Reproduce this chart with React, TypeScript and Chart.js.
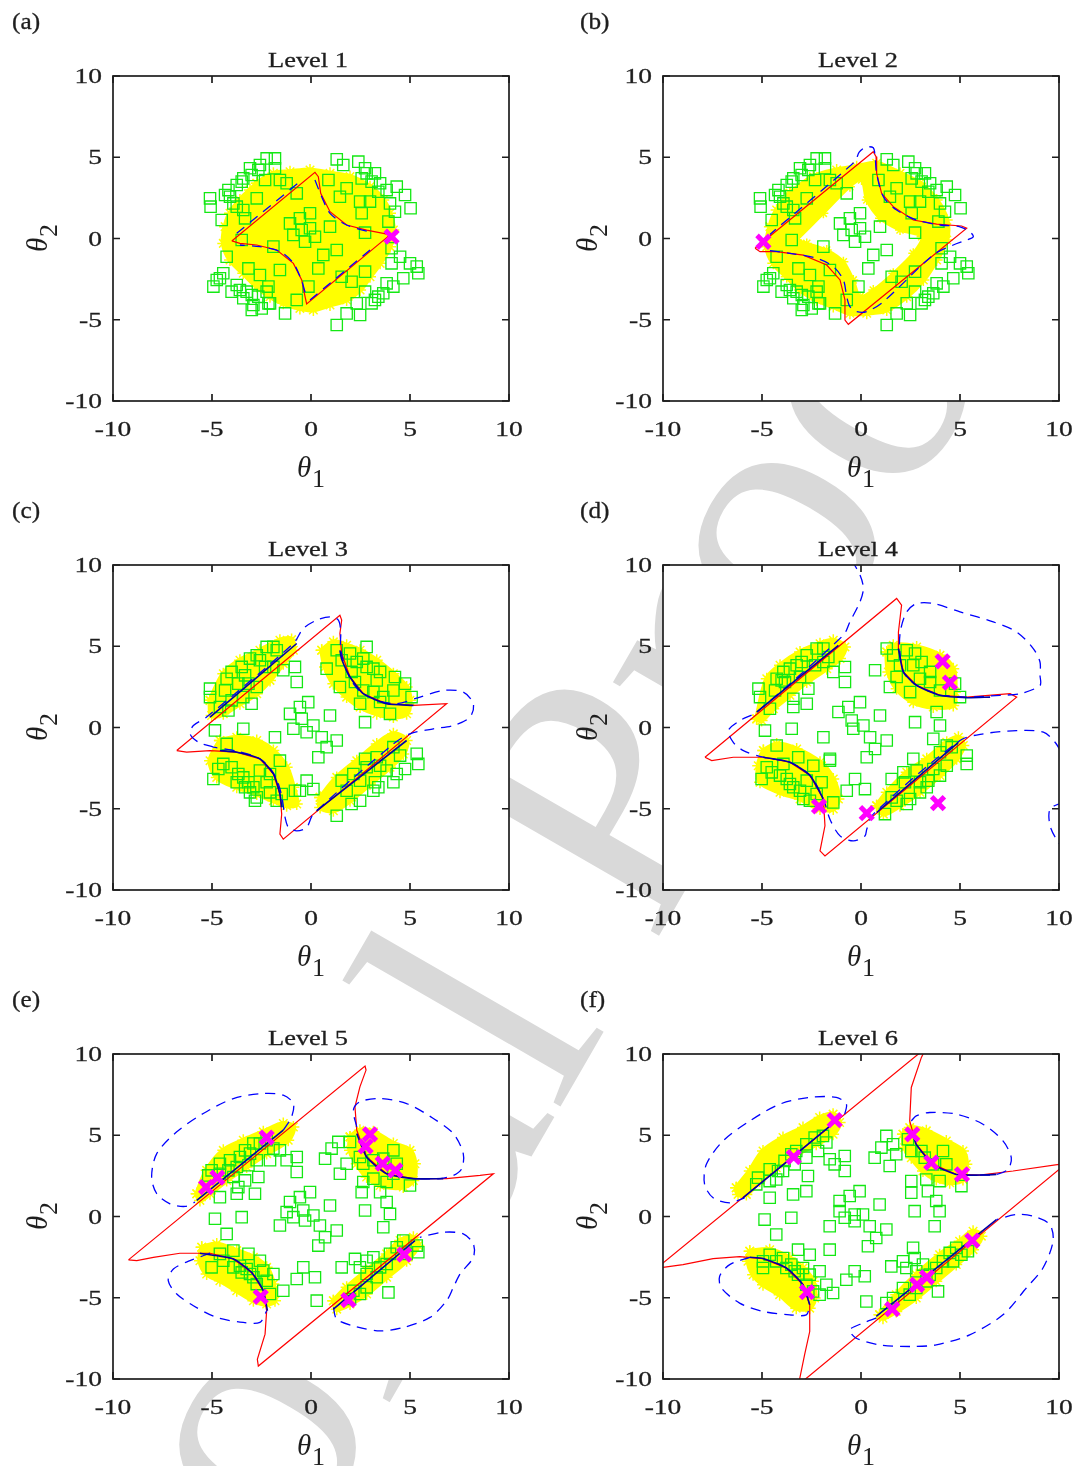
import React, { useEffect, useRef } from 'react';
import { Chart, registerables } from 'chart.js';

Chart.register(...registerables);

type Pt = [number, number];

// ---------- axes ----------
const AXIS_MIN = -10;
const AXIS_MAX = 10;
const TICKS = [-10, -5, 0, 5, 10];

// ---------- Level 1 ----------
const L1_SAMPLES: Pt[] = [
  [-1.82, 4.93], [-2.24, 4.93], [-2.58, 4.52], [-3.08, 4.32], [-2.66, 4.22], [-1.82, 4.32], [-3.42, 3.70], [-3.0, 3.91],
  [-3.75, 3.29], [-4.17, 2.98], [-3.5, 3.5], [-4.09, 2.57], [-5.1, 2.47], [-5.07, 1.96], [-4.51, 1.14], [-3.75, 1.96],
  [-3.42, 1.75], [-3.33, 1.24], [-2.74, 2.47], [-2.32, 3.6], [-1.57, 3.6], [-1.23, 3.4], [-0.72, 2.78], [-3.92, 2.16],
  [-4.34, 2.68], [1.3, 4.87], [1.63, 4.52], [2.39, 4.73], [2.73, 4.32], [2.81, 4.01], [2.56, 3.7], [3.23, 4.01],
  [3.06, 3.5], [3.49, 3.4], [3.4, 2.88], [3.82, 2.98], [4.33, 3.19], [4.75, 2.68], [3.99, 2.16], [5.03, 1.86],
  [4.24, 1.65], [3.91, 1.04], [2.98, 2.27], [2.48, 2.27], [2.56, 1.55], [1.46, 2.57], [0.88, 3.6], [1.8, 3.09],
  [0.96, 0.73], [2.73, 0.36], [-1.06, 0.93], [-0.56, 1.24], [-0.05, 1.55], [-0.47, 0.52], [-0.89, 0.22], [-0.3, -0.2],
  [0.2, 0.11], [1.3, -0.71], [0.62, -1.01], [0.37, -1.84], [-0.13, -2.96], [-0.72, -3.78], [-1.31, -4.61], [-1.9, -0.5],
  [-2.07, -3.99], [-2.24, -3.27], [-0.05, 0.63], [-3.5, -0.09], [4.07, -0.6], [4.5, -1.12], [4.07, -1.53], [5.0, -1.53],
  [5.34, -1.73], [5.42, -2.14], [4.66, -2.45], [3.82, -2.76], [4.16, -2.96], [3.65, -3.37], [3.23, -3.78], [3.06, -3.99],
  [3.4, -3.58], [2.31, -3.99], [2.48, -4.71], [1.8, -4.61], [1.3, -5.32], [2.73, -3.27], [2.05, -2.66], [1.55, -2.35],
  [2.73, -2.04], [-4.6, -2.45], [-4.93, -2.96], [-4.76, -2.55], [-4.43, -2.14], [-4.26, -1.12], [-3.75, -2.86], [-3.59, -3.17],
  [-3.25, -3.27], [-3.42, -3.68], [-2.99, -3.48], [-2.91, -4.09], [-2.99, -4.4], [-2.49, -4.3], [-2.15, -3.99], [-2.66, -3.58],
  [-3.16, -1.84], [-2.58, -2.25], [-1.57, -1.94], [-4.01, -3.27], [-2.15, -2.96],
];
const L1_YELLOW: Pt[][] = [[
  [-2.74, 3.4], [-1.9, 4.01], [-1.06, 4.11], [-0.05, 4.22], [0.96, 4.01], [1.97, 3.81], [2.98, 3.19], [3.65, 2.37],
  [3.99, 1.55], [4.16, 0.52], [3.99, -0.5], [3.49, -1.53], [2.98, -2.35], [2.48, -3.17], [1.8, -3.78], [0.96, -4.09],
  [0.12, -4.4], [-0.56, -4.3], [-1.4, -3.99], [-2.07, -3.58], [-2.74, -2.96], [-3.42, -2.14], [-4.09, -1.32], [-4.43, -0.3],
  [-4.34, 0.73], [-4.09, 1.55], [-3.59, 2.37], [-3.08, 2.98],
]];
const L1_SURROGATE: Pt[] = [
  [-4.0, -0.15], [0.2, 4.07], [0.37, 3.8], [0.49, 2.78], [0.96, 1.65], [1.8, 0.83], [2.81, 0.52], [3.65, 0.32], [3.99, 0.22],
  [-0.22, -4.03], [-0.3, -3.58], [-0.47, -2.55], [-0.89, -1.53], [-1.73, -0.71], [-2.74, -0.4], [-3.59, -0.3], [-4.0, -0.15],
];
const L1_CONTOUR: Pt[][] = [
  [[-3.75, 0.32], [-0.56, 3.5]],
  [[0.2, 3.6], [0.54, 2.57], [0.96, 1.55], [1.8, 0.83], [2.9, 0.42]],
  [[2.98, -0.71], [-0.05, -3.78]],
  [[-0.3, -3.3], [-0.5, -2.5], [-0.9, -1.5], [-1.57, -0.8], [-2.58, -0.5], [-3.59, -0.4]],
];
const L1_NEW: Pt[] = [[4.07, 0.11]];

// ---------- Level 2 ----------
const L2_SAMPLES: Pt[] = L1_SAMPLES; // the same candidate set is shown in panel (b)
const L2_YELLOW: Pt[][] = [[
  [-3.59, 2.78], [-2.41, 3.81], [-1.23, 4.22], [-0.22, 4.42], [0.79, 4.63], [1.97, 4.01], [2.98, 3.4], [3.82, 2.37],
  [4.33, 1.14], [4.33, -0.09], [3.82, -1.32], [3.15, -2.55], [2.31, -3.58], [1.3, -4.4], [0.29, -4.6], [-0.56, -4.6],
  [-1.4, -4.19], [-2.24, -3.78], [-3.08, -3.17], [-3.75, -2.35], [-4.43, -1.53], [-4.76, -0.5], [-4.6, 0.73], [-4.26, 1.75],
]];
const L2_HOLE: Pt[][] = [[
  [-3.25, -0.09], [-1.9, 1.55], [-0.56, 3.19], [0.03, 3.6], [0.29, 2.37], [0.96, 1.24], [1.97, 0.52], [3.06, 0.11],
  [2.64, -0.91], [1.63, -2.14], [0.62, -3.17], [-0.05, -3.58], [-0.39, -2.55], [-0.89, -1.43], [-1.73, -0.71], [-2.74, -0.3],
]];
const L2_SURROGATE: Pt[] = [
  [-5.35, -0.6], [0.62, 5.34], [0.76, 5.04], [0.79, 4.01], [1.04, 2.78], [1.63, 1.96], [2.64, 1.14], [3.82, 0.89], [5.08, 0.77],
  [5.34, 0.63], [-0.64, -5.28], [-0.81, -5.02], [-0.81, -3.78], [-1.06, -2.55], [-1.73, -1.63], [-2.91, -1.02], [-4.26, -0.81],
  [-5.1, -0.81], [-5.35, -0.6],
];
const L2_CONTOUR: Pt[][] = [[
  [-4.6, -0.75], [-3.59, -0.91], [-2.24, -1.22], [-1.4, -1.73], [-0.89, -2.55], [-0.72, -3.58], [-0.56, -4.19], [-0.22, -4.5],
  [0.29, -4.5], [1.13, -3.89], [3.65, -1.01], [4.66, -0.4], [5.34, -0.09], [5.67, 0.11], [5.51, 0.4], [5.0, 0.72],
  [3.99, 0.83], [2.81, 1.14], [1.8, 1.75], [1.13, 2.57], [0.79, 4.01], [0.71, 5.04], [0.62, 5.58], [0.25, 5.62],
  [-0.1, 5.3], [-0.3, 4.75], [-4.6, 0.25],
]];
const L2_NEW: Pt[] = [[-4.93, -0.2]];

// ---------- Level 3 ----------
const L3_SAMPLES: Pt[] = [
  [-5.1, 2.39], [-5.1, 1.87], [-4.34, 2.28], [-4.26, 3.0], [-4.01, 3.42], [-3.5, 3.73], [-3.33, 3.21], [-3.08, 4.24],
  [-2.74, 4.45], [-2.58, 4.14], [-2.24, 4.96], [-1.9, 4.96], [-1.73, 4.75], [-2.32, 3.73], [-1.9, 3.73], [-1.4, 3.52],
  [-0.81, 3.73], [-0.72, 2.8], [-2.74, 2.49], [-3.16, 2.7], [-3.67, 2.7], [-3.42, 1.87], [-4.01, 1.67], [-3.0, 1.46],
  [-4.6, 1.26], [-4.17, 1.05], [0.79, 3.62], [1.3, 4.75], [1.55, 4.14], [1.97, 4.55], [2.31, 4.03], [2.64, 4.24],
  [2.81, 3.73], [3.15, 3.62], [3.49, 3.42], [3.32, 2.9], [4.24, 3.11], [4.75, 2.7], [4.16, 2.28], [5.08, 1.87],
  [3.65, 1.87], [3.15, 2.18], [2.64, 2.28], [2.22, 2.8], [1.46, 2.49], [2.48, 1.46], [3.49, 1.57], [3.99, 0.84],
  [2.73, 0.33], [2.05, 3.42], [2.81, 4.96], [-0.14, 1.56], [-0.56, 1.26], [-1.06, 0.84], [-0.47, 0.54], [0.12, 0.12],
  [-0.89, -0.08], [-0.22, -0.29], [0.96, 0.74], [0.54, -0.6], [1.3, -0.8], [0.79, -1.21], [0.37, -1.83], [-1.82, -0.6],
  [-3.42, -0.08], [-4.85, -0.18], [-0.22, -3.27], [0.12, -3.79], [-0.56, -3.89], [-4.26, -1.01], [-4.43, -2.24], [-4.68, -2.55],
  [-4.93, -3.17], [-4.01, -2.45], [-3.67, -2.86], [-3.42, -3.07], [-3.16, -3.37], [-3.33, -3.68], [-2.91, -3.68], [-3.08, -3.99],
  [-2.74, -4.3], [-2.83, -4.51], [-2.58, -2.65], [-2.07, -2.86], [-2.24, -3.37], [-2.07, -3.99], [-1.73, -4.51], [-1.57, -2.04],
  [-0.81, -3.89], [-1.48, -4.09], [-3.75, -3.37], [1.55, -3.27], [2.14, -2.86], [2.73, -1.93], [2.81, -2.45], [3.32, -1.83],
  [3.49, -2.35], [3.82, -2.65], [4.16, -1.21], [4.5, -1.73], [4.33, -2.86], [4.75, -2.55], [5.34, -1.62], [5.42, -2.24],
  [3.23, -3.37], [3.15, -3.89], [2.48, -3.27], [1.8, -3.89], [2.48, -4.51], [2.05, -4.71], [1.3, -5.43], [3.4, -3.68],
  [4.16, -3.37],
];
const L3_YELLOW: Pt[][] = [
  [[-5.1, 1.67], [-4.43, 3.31], [-3.59, 4.14], [-2.58, 4.75], [-1.57, 5.37], [-0.98, 5.41], [-0.89, 4.75], [-1.4, 3.93],
    [-2.07, 2.9], [-2.74, 2.08], [-3.59, 1.46], [-4.43, 0.84], [-5.02, 0.74]],
  [[0.54, 4.75], [1.13, 5.27], [1.8, 5.06], [2.48, 4.75], [3.32, 4.14], [4.16, 3.31], [4.83, 2.49], [5.0, 1.67],
    [4.83, 0.84], [4.16, 0.64], [3.32, 0.84], [2.48, 1.26], [1.8, 1.87], [1.13, 2.7], [0.71, 3.73]],
  [[-4.6, -0.8], [-3.75, -0.6], [-2.74, -0.8], [-1.9, -1.42], [-1.23, -2.45], [-0.89, -3.68], [-0.72, -4.71], [-1.23, -4.81],
    [-1.9, -4.51], [-2.74, -4.09], [-3.75, -3.68], [-4.76, -3.07], [-5.1, -2.04]],
  [[0.46, -4.3], [1.3, -3.07], [2.31, -2.04], [3.32, -1.01], [4.16, -0.39], [4.83, -0.8], [4.66, -1.63], [3.99, -2.45],
    [2.98, -3.48], [1.97, -4.51], [1.13, -5.12], [0.46, -4.92]],
];
const L3_SURROGATE: Pt[] = [
  [-6.78, -1.42], [1.46, 6.91], [1.55, 6.61], [1.46, 5.78], [1.55, 4.55], [1.97, 3.11], [2.64, 2.08], [3.82, 1.46], [5.17, 1.36],
  [6.85, 1.46], [-1.4, -6.87], [-1.57, -6.56], [-1.48, -5.33], [-1.57, -4.09], [-1.9, -2.86], [-2.58, -1.93], [-3.75, -1.52],
  [-5.1, -1.42], [-6.28, -1.52], [-6.78, -1.42],
];
const L3_CONTOUR: Pt[][] = [[
  [-4.93, -1.21], [-5.69, -0.9], [-6.11, -0.39], [-5.94, 0.12], [-5.27, 0.64], [-0.89, 5.17], [-0.39, 6.09], [0.29, 6.61],
  [0.96, 6.81], [1.38, 6.61], [1.5, 5.9], [1.5, 4.8], [1.9, 3.2], [2.6, 2.1], [4.16, 1.46], [5.51, 1.87], [6.68, 2.28],
  [7.69, 2.18], [8.2, 1.46], [8.03, 0.64], [7.19, 0.12], [6.18, -0.08], [5.0, -0.39], [4.16, -1.01], [0.12, -5.33],
  [-0.22, -6.15], [-0.72, -6.36], [-1.14, -6.15], [-1.31, -5.53], [-1.5, -4.1], [-1.85, -2.9], [-2.55, -1.95], [-3.75, -1.45],
  [-4.93, -1.21],
]];
const L3_TRUE: Pt[][] = [
  [[-5.1, 0.64], [-0.72, 5.17]],
  [[1.46, 4.75], [1.55, 4.2], [1.97, 3.11], [2.64, 2.08], [3.82, 1.46], [5.17, 1.36]],
  [[4.83, -0.8], [0.29, -5.12]],
  [[-4.6, -1.42], [-3.75, -1.52], [-2.58, -1.93], [-1.9, -2.86], [-1.57, -4.09], [-1.48, -4.92]],
];
const L3_NEW: Pt[] = [];

// ---------- Level 4 ----------
const L4_SAMPLES: Pt[] = [
  [-5.18, 2.39], [-5.1, 1.87], [-4.6, 1.15], [-4.26, 3.0], [-4.34, 2.28], [-4.01, 2.9], [-3.92, 3.42], [-3.59, 3.62],
  [-3.25, 3.83], [-3.0, 4.03], [-2.74, 4.44], [-2.24, 4.86], [-1.9, 4.86], [-2.32, 3.83], [-1.9, 4.03], [-1.4, 3.42],
  [-0.81, 3.72], [-0.81, 2.8], [-2.66, 2.39], [-3.42, 1.77], [-3.42, 1.26], [-2.74, 1.46], [-3.84, 2.8], [-3.08, 3.11],
  [-1.65, 4.34], [0.71, 3.52], [1.3, 4.86], [1.63, 4.44], [2.31, 4.75], [2.73, 4.55], [3.06, 4.03], [3.49, 3.42],
  [2.64, 3.83], [1.97, 3.83], [1.8, 3.11], [1.46, 2.49], [2.48, 2.18], [2.98, 3.0], [3.49, 2.8], [3.99, 2.28],
  [3.82, 0.95], [5.0, 1.87], [4.75, 2.7], [2.73, 0.33], [3.99, 0.12], [3.65, -0.7], [-0.64, 1.26], [-0.05, 1.56],
  [-1.14, 0.95], [-0.47, 0.43], [-0.39, -0.08], [0.12, 0.12], [0.96, 0.74], [0.46, -0.6], [1.3, -0.8], [0.71, -1.32],
  [0.29, -1.83], [-1.9, -0.6], [-3.5, -0.08], [-4.85, -0.19], [-4.26, -1.11], [-1.57, -2.04], [-0.3, -3.17], [0.2, -3.79],
  [-0.72, -3.89], [1.55, -3.17], [-5.02, -3.17], [-4.76, -2.45], [-4.51, -2.76], [-4.09, -2.96], [-3.75, -3.17], [-3.59, -3.48],
  [-3.42, -3.68], [-3.08, -3.89], [-2.91, -4.4], [-2.58, -4.51], [-2.24, -4.09], [-2.74, -3.27], [-3.17, -1.83], [-2.41, -2.35],
  [-1.99, -3.37], [-1.57, -1.93], [-1.4, -4.61], [-3.92, -2.24], [1.21, -5.33], [1.55, -4.3], [2.14, -2.76], [2.22, -3.37],
  [2.64, -1.93], [2.81, -2.65], [2.98, -3.37], [3.32, -3.68], [3.65, -2.55], [3.99, -1.52], [3.99, -2.96], [4.33, -2.35],
  [4.58, -1.21], [5.34, -1.73], [5.34, -2.24], [2.48, -4.4], [2.31, -4.71], [1.8, -4.51], [2.98, -3.99], [3.4, -3.27],
  [4.33, -1.11],
];
const L4_YELLOW: Pt[][] = [
  [[-5.27, 0.53], [-4.76, 3.0], [-4.09, 3.83], [-3.08, 4.65], [-2.07, 5.16], [-1.4, 5.37], [-0.81, 4.96], [-1.06, 4.24],
    [-1.73, 3.62], [-2.74, 2.8], [-3.59, 1.98], [-4.43, 1.15], [-5.02, 0.43]],
  [[1.3, 4.65], [1.63, 5.06], [2.81, 4.96], [3.99, 4.44], [4.66, 3.62], [4.75, 2.18], [4.66, 1.36], [3.65, 1.26],
    [2.64, 1.56], [1.8, 2.39], [1.38, 3.42]],
  [[-4.93, -1.42], [-4.26, -1.01], [-3.25, -1.32], [-2.07, -2.14], [-1.4, -3.17], [-1.14, -4.4], [-1.4, -5.02], [-2.07, -5.02],
    [-3.08, -4.4], [-4.09, -3.99], [-5.1, -3.37], [-5.19, -2.35]],
  [[0.79, -4.81], [1.3, -3.99], [2.31, -2.76], [3.32, -1.93], [4.33, -0.91], [4.92, -0.6], [5.17, -1.11], [4.83, -1.93],
    [3.99, -2.96], [2.98, -3.99], [1.97, -4.81], [1.13, -5.33]],
];
const L4_SURROGATE: Pt[] = [
  [-7.88, -1.83], [1.8, 7.94], [2.05, 7.53], [1.89, 5.88], [1.89, 4.86], [2.14, 3.42], [2.81, 2.59], [3.99, 1.98], [5.34, 1.87],
  [7.53, 2.08], [7.86, 1.87], [-1.82, -7.9], [-2.07, -7.59], [-1.82, -6.05], [-1.9, -4.4], [-2.57, -2.96], [-3.59, -2.14],
  [-4.93, -1.83], [-6.45, -1.83], [-7.54, -2.04], [-7.88, -1.83],
];
const L4_CONTOUR: Pt[][] = [
  [[-0.47, 10.3], [-0.05, 9.38], [0.12, 8.56], [-0.05, 7.74], [-0.56, 6.5], [-0.89, 5.68], [-5.27, 0.95], [-6.11, 0.43],
    [-6.7, -0.19], [-6.45, -0.91], [-5.94, -1.42], [-4.93, -1.83], [-3.59, -2.14], [-2.57, -2.96], [-1.9, -4.4], [-1.57, -5.64],
    [-1.06, -6.67], [-0.39, -6.98], [0.2, -6.67], [0.29, -6.26], [0.62, -5.33], [5.0, -0.8], [6.18, -0.39], [7.86, -0.19],
    [9.21, -0.29], [9.8, -0.91], [10.2, -1.7]],
  [[10.2, -4.6], [9.55, -5.02], [9.55, -6.05], [9.97, -7.08], [10.2, -7.3]],
  [[3.99, 1.98], [5.34, 1.87], [7.02, 1.98], [8.03, 2.08], [9.04, 2.59], [9.04, 3.21], [9.04, 4.03], [8.7, 4.86], [7.86, 5.88],
    [6.68, 6.5], [5.0, 7.12], [3.65, 7.63], [2.81, 7.63], [2.31, 7.12], [2.0, 6.0], [1.95, 4.9], [2.14, 3.42], [2.81, 2.59],
    [3.99, 1.98]],
];
const L4_TRUE: Pt[][] = [
  [[-5.27, 0.95], [-1.14, 5.06]],
  [[1.89, 4.86], [2.14, 3.42], [2.81, 2.59], [3.99, 1.98], [5.34, 1.83], [6.52, 1.87]],
  [[4.92, -0.91], [0.79, -5.23]],
  [[-4.93, -1.83], [-3.59, -2.14], [-2.57, -2.96], [-1.9, -4.4]],
];
const L4_NEW: Pt[] = [[4.12, 4.07], [4.49, 2.76], [-2.12, -4.86], [0.29, -5.27], [3.89, -4.65]];

// ---------- Level 5 ----------
const L5_SAMPLES: Pt[] = [
  [-5.19, 2.53], [-5.02, 2.84], [-4.6, 2.63], [-4.6, 3.25], [-4.09, 3.46], [-4.17, 2.84], [-3.75, 3.05], [-3.59, 3.66],
  [-3.33, 4.07], [-3.08, 3.87], [-2.91, 4.49], [-2.58, 4.49], [-2.24, 4.69], [-1.9, 4.18], [-1.57, 4.07], [-2.07, 3.46],
  [-2.74, 3.46], [-3.16, 3.15], [-3.92, 2.43], [-4.6, 1.19], [-3.75, 1.4], [-2.83, 1.4], [-2.66, 2.43], [-3.67, 1.81],
  [-3.33, 2.22], [-1.23, 3.46], [-0.72, 3.66], [-0.72, 2.74], [0.71, 3.56], [1.04, 4.18], [1.38, 4.59], [1.97, 4.59],
  [2.47, 3.66], [2.64, 3.25], [3.15, 3.46], [3.65, 3.56], [4.16, 4.07], [4.33, 3.25], [4.16, 2.63], [5.0, 1.91],
  [3.82, 2.12], [3.15, 2.33], [2.64, 2.12], [2.56, 1.5], [3.49, 1.5], [3.82, 0.89], [2.73, 0.37], [3.99, 0.16],
  [3.65, -0.66], [1.46, 2.63], [1.8, 3.25], [-1.06, 0.89], [-0.56, 1.19], [-0.05, 1.5], [-1.23, 0.27], [-0.89, -0.04],
  [-0.39, 0.37], [-0.3, -0.25], [0.12, 0.06], [0.45, -0.55], [0.71, -1.28], [1.3, -0.86], [0.96, 0.68], [-1.57, -0.55],
  [-3.5, -0.04], [-4.85, -0.14], [-4.26, -1.07], [0.37, -1.79], [-0.39, -3.13], [0.2, -3.74], [-0.72, -3.85], [-1.4, -4.57],
  [0.29, -5.18], [1.55, -3.13], [2.22, -2.61], [-5.02, -3.13], [-4.6, -2.3], [-4.43, -2.72], [-3.92, -2.1], [-3.92, -3.13],
  [-3.59, -3.03], [-3.5, -3.44], [-3.25, -3.23], [-3.08, -3.54], [-2.91, -3.74], [-2.58, -2.72], [-2.41, -3.33], [-2.24, -3.95],
  [-1.9, -3.54], [-2.74, -4.16], [-2.07, -4.77], [-3.16, -2.3], [2.47, -3.13], [2.81, -2.72], [2.81, -3.54], [3.15, -2.51],
  [3.32, -3.74], [3.49, -3.13], [3.82, -2.92], [3.99, -2.3], [4.33, -1.89], [4.66, -1.48], [4.83, -2.3], [5.34, -1.79],
  [5.42, -2.2], [2.14, -4.57], [2.47, -4.77], [2.81, -4.36], [1.97, -5.08], [3.91, -4.67],
];
const L5_YELLOW: Pt[][] = [
  [[-5.77, 1.4], [-5.27, 2.84], [-4.43, 4.07], [-3.42, 4.69], [-2.41, 5.21], [-1.4, 5.72], [-0.89, 5.51], [-1.15, 4.69],
    [-2.24, 3.87], [-3.25, 3.05], [-4.26, 2.22], [-5.1, 1.4], [-5.61, 0.99]],
  [[1.97, 4.9], [2.47, 5.31], [3.15, 5.21], [4.16, 4.49], [5.0, 4.07], [5.25, 3.25], [5.17, 2.22], [4.66, 1.81],
    [3.49, 1.91], [2.81, 2.43], [2.31, 3.25], [1.97, 4.07]],
  [[-5.52, -1.89], [-4.76, -1.69], [-3.75, -2.1], [-2.91, -2.51], [-2.24, -3.13], [-1.9, -4.16], [-1.82, -5.18], [-2.24, -5.39],
    [-2.91, -5.18], [-3.75, -4.57], [-4.6, -3.95], [-5.27, -3.54], [-5.61, -2.72]],
  [[1.13, -5.18], [1.8, -4.36], [2.81, -3.33], [3.82, -2.3], [4.5, -1.48], [5.17, -1.28], [5.42, -1.79], [4.83, -2.72],
    [3.82, -3.74], [2.81, -4.77], [1.97, -5.39], [1.3, -5.7]],
];
const L5_SURROGATE: Pt[] = [
  [-9.22, -2.67], [2.73, 9.26], [2.78, 9.01], [2.47, 7.98], [2.22, 6.75], [2.31, 5.31], [2.81, 3.66], [3.82, 2.63], [5.17, 2.33],
  [6.85, 2.33], [8.54, 2.53], [9.21, 2.63], [-2.66, -9.2], [-2.71, -8.79], [-2.32, -7.24], [-2.24, -5.8], [-2.41, -4.57],
  [-3.0, -3.44], [-3.92, -2.61], [-5.1, -2.26], [-6.62, -2.26], [-7.96, -2.51], [-8.8, -2.72], [-9.22, -2.67],
];
const L5_CONTOUR: Pt[][] = [
  [[-1.4, 5.31], [-0.98, 6.13], [-0.89, 6.95], [-1.4, 7.47], [-2.41, 7.57], [-3.92, 7.26], [-5.44, 6.34], [-6.78, 5.21],
    [-7.79, 3.87], [-8.05, 2.43], [-7.79, 1.4], [-7.12, 0.78], [-6.36, 0.62], [-5.86, 0.88]],
  [[2.31, 5.51], [2.14, 6.54], [2.47, 7.06], [3.49, 7.26], [4.83, 6.95], [6.18, 6.03], [7.19, 5.1], [7.69, 3.87], [7.61, 2.94],
    [7.19, 2.53], [6.52, 2.33], [5.5, 2.33]],
  [[-5.1, -2.26], [-6.11, -2.72], [-6.95, -3.23], [-7.21, -3.95], [-6.78, -4.77], [-5.94, -5.49], [-4.76, -6.21], [-3.42, -6.52],
    [-2.58, -6.52], [-2.24, -5.8]],
  [[1.13, -5.6], [1.3, -6.32], [2.14, -6.73], [3.49, -7.04], [4.66, -6.83], [6.01, -6.21], [6.85, -5.18], [7.19, -4.36],
    [7.53, -3.54], [8.2, -2.51], [8.2, -1.69], [7.69, -1.07], [6.68, -0.97], [5.5, -1.28]],
];
const L5_TRUE: Pt[][] = [
  [[-5.77, 0.99], [-1.4, 5.31]],
  [[2.31, 5.1], [2.81, 3.66], [3.82, 2.63], [5.17, 2.33], [6.68, 2.33]],
  [[5.25, -1.48], [1.13, -5.7]],
  [[-5.61, -2.26], [-3.92, -2.61], [-3.0, -3.44], [-2.41, -4.57], [-2.2, -5.8]],
];
const L5_NEW: Pt[] = [
  [-2.24, 4.86], [-4.73, 2.39], [-5.3, 1.81], [2.98, 5.06], [2.76, 4.32], [3.62, 3.25], [4.26, 2.84], [-2.54, -4.94],
  [4.71, -2.35], [1.89, -5.14],
];

// ---------- Level 6 ----------
const L6_SAMPLES: Pt[] = [
  [-5.29, 1.98], [-5.2, 2.39], [-4.61, 2.18], [-4.61, 2.9], [-4.19, 2.8], [-3.86, 3.42], [-3.52, 3.83], [-3.27, 4.03],
  [-2.76, 4.44], [-2.34, 4.86], [-1.92, 4.96], [-1.75, 4.55], [-2.17, 4.03], [-2.76, 3.62], [-3.35, 3.21], [-3.94, 2.8],
  [-4.28, 2.28], [-4.61, 1.15], [-3.43, 1.36], [-2.76, 1.56], [-2.68, 2.49], [-1.58, 3.52], [-0.82, 3.72], [-0.82, 2.8],
  [-1.33, 3.21], [0.69, 3.62], [1.03, 4.24], [1.28, 4.96], [1.62, 4.44], [2.37, 4.75], [2.54, 4.03], [3.05, 4.03],
  [3.22, 3.62], [3.64, 3.21], [4.14, 4.03], [4.31, 3.21], [5.07, 1.87], [3.97, 2.18], [3.3, 2.28], [2.54, 2.18],
  [2.54, 1.46], [3.38, 1.56], [3.8, 0.95], [2.71, 0.33], [3.97, 0.33], [3.72, -0.6], [1.45, 3.11], [1.78, 3.83],
  [-1.08, 0.95], [-0.57, 1.26], [-0.07, 1.56], [-1.08, 0.33], [-0.82, -0.08], [-0.32, 0.12], [-0.32, -0.29], [0.1, 0.12],
  [0.44, -0.6], [0.77, -1.32], [1.28, -0.8], [0.94, 0.74], [-1.58, -0.6], [-3.52, -0.08], [-4.87, -0.19], [-4.28, -1.11],
  [0.35, -1.83], [-0.32, -3.37], [0.19, -3.68], [-0.74, -3.89], [-1.41, -4.71], [0.27, -5.23], [1.53, -3.07], [2.12, -2.76],
  [2.63, -1.93], [-4.95, -3.17], [-4.61, -2.35], [-4.28, -2.76], [-3.94, -2.55], [-3.77, -3.17], [-3.52, -2.96], [-3.35, -3.37],
  [-3.18, -3.58], [-2.93, -3.17], [-2.76, -4.2], [-2.59, -3.58], [-2.42, -4.61], [-2.09, -4.81], [-2.09, -3.37], [-1.75, -4.2],
  [-1.58, -2.04], [-2.59, -2.35], [-3.18, -2.04], [-4.95, -2.76], [2.29, -3.17], [2.71, -2.55], [2.79, -3.37], [3.13, -2.96],
  [3.3, -3.99], [3.47, -3.58], [3.8, -3.17], [4.14, -2.76], [4.48, -2.24], [4.81, -1.93], [5.07, -2.35], [5.4, -2.14],
  [4.65, -2.76], [2.12, -4.4], [2.46, -4.81], [2.79, -4.4], [3.89, -4.61], [1.62, -5.02], [1.28, -5.33],
];
const L6_YELLOW: Pt[][] = [
  [[-6.3, 1.77], [-5.62, 2.8], [-4.95, 4.03], [-3.94, 4.86], [-2.93, 5.47], [-2.09, 6.09], [-1.41, 6.3], [-1.08, 5.78],
    [-1.41, 5.06], [-2.26, 4.44], [-3.27, 3.83], [-4.28, 3.0], [-5.12, 2.18], [-5.79, 1.36], [-6.21, 1.36]],
  [[2.12, 5.06], [2.46, 5.47], [3.3, 5.27], [4.31, 4.65], [5.15, 4.03], [5.32, 3.21], [5.15, 2.28], [4.48, 2.08],
    [3.8, 2.28], [3.13, 2.8], [2.54, 3.62], [2.21, 4.24]],
  [[-5.62, -2.14], [-4.61, -2.04], [-3.6, -2.55], [-2.93, -3.17], [-2.42, -3.99], [-2.34, -5.02], [-2.59, -5.64], [-3.27, -5.64],
    [-4.11, -4.81], [-4.95, -4.2], [-5.45, -3.58], [-5.71, -2.76]],
  [[0.94, -6.05], [1.78, -4.81], [2.79, -3.58], [3.97, -2.35], [4.98, -1.52], [5.66, -0.91], [6.08, -1.21], [5.66, -2.04],
    [4.81, -2.96], [3.8, -3.99], [2.79, -5.02], [1.78, -5.84], [1.11, -6.26]],
];
const L6_SURROGATE: Pt[] = [
  [-10.6, -3.46], [3.3, 10.4], [3.05, 9.79], [2.54, 7.94], [2.46, 5.88], [2.79, 4.44], [3.64, 3.21], [4.81, 2.59], [5.99, 2.55],
  [7.68, 2.8], [10.0, 3.21], [10.38, 3.28], [-3.2, -10.4], [-3.1, -10.0], [-2.85, -8.52], [-2.59, -7.08], [-2.59, -5.43],
  [-2.93, -4.2], [-3.77, -3.17], [-4.95, -2.59], [-6.13, -2.47], [-7.47, -2.59], [-8.99, -2.96], [-10.0, -3.13], [-10.6, -3.3],
  [-10.6, -3.46],
];
const L6_CONTOUR: Pt[][] = [
  [[-0.82, 6.3], [-0.74, 6.91], [-1.25, 7.33], [-2.59, 7.33], [-4.11, 6.91], [-5.62, 5.88], [-6.97, 4.65], [-7.81, 3.21],
    [-7.9, 1.98], [-7.47, 1.15], [-6.63, 0.84], [-5.88, 1.15]],
  [[2.54, 5.88], [2.79, 6.19], [3.47, 6.4], [4.81, 6.3], [6.16, 5.68], [7.17, 4.65], [7.59, 3.62], [7.42, 2.9], [6.84, 2.59],
    [5.99, 2.55]],
  [[-5.62, -2.51], [-6.63, -2.96], [-7.14, -3.68], [-7.05, -4.4], [-6.13, -5.33], [-4.95, -5.84], [-3.6, -6.05], [-2.76, -6.05],
    [-2.59, -5.43]],
  [[0.77, -6.26], [0.1, -6.56], [-0.57, -6.98], [-0.24, -7.49], [0.94, -7.9], [2.46, -8.0], [3.8, -7.9], [5.49, -7.28],
    [7.17, -6.05], [8.35, -4.4], [9.19, -3.17], [9.7, -1.52], [9.53, -0.49], [8.69, 0.02], [7.85, 0.12], [6.84, -0.19]],
];
const L6_TRUE: Pt[][] = [
  [[-5.96, 1.15], [-1.25, 5.88]],
  [[2.63, 5.06], [2.79, 4.44], [3.64, 3.21], [4.81, 2.59], [5.99, 2.55], [6.84, 2.59]],
  [[6.84, -0.19], [0.77, -6.15]],
  [[-5.62, -2.51], [-4.95, -2.59], [-3.77, -3.17], [-2.93, -4.2], [-2.59, -5.43]],
];
const L6_NEW: Pt[] = [
  [-1.33, 5.93], [-3.4, 3.66], [2.59, 5.06], [3.55, 3.31], [5.1, 2.59], [5.62, -1.48], [3.33, -3.74], [2.83, -4.2],
  [-2.73, -4.65], [1.58, -5.7],
];

// ---------- panel table ----------
interface PanelSpec {
  tag: string; title: string; col: number; row: number;
  samples: Pt[]; yellow: Pt[][]; holes: Pt[][]; surrogate: Pt[];
  contour: Pt[][]; truth: Pt[][]; added: Pt[];
}

const PANELS: PanelSpec[] = [
  { tag: '(a)', title: 'Level 1', col: 0, row: 0, samples: L1_SAMPLES, yellow: L1_YELLOW, holes: [], surrogate: L1_SURROGATE, contour: L1_CONTOUR, truth: [], added: L1_NEW },
  { tag: '(b)', title: 'Level 2', col: 1, row: 0, samples: L2_SAMPLES, yellow: L2_YELLOW, holes: L2_HOLE, surrogate: L2_SURROGATE, contour: L2_CONTOUR, truth: [], added: L2_NEW },
  { tag: '(c)', title: 'Level 3', col: 0, row: 1, samples: L3_SAMPLES, yellow: L3_YELLOW, holes: [], surrogate: L3_SURROGATE, contour: L3_CONTOUR, truth: L3_TRUE, added: L3_NEW },
  { tag: '(d)', title: 'Level 4', col: 1, row: 1, samples: L4_SAMPLES, yellow: L4_YELLOW, holes: [], surrogate: L4_SURROGATE, contour: L4_CONTOUR, truth: L4_TRUE, added: L4_NEW },
  { tag: '(e)', title: 'Level 5', col: 0, row: 2, samples: L5_SAMPLES, yellow: L5_YELLOW, holes: [], surrogate: L5_SURROGATE, contour: L5_CONTOUR, truth: L5_TRUE, added: L5_NEW },
  { tag: '(f)', title: 'Level 6', col: 1, row: 2, samples: L6_SAMPLES, yellow: L6_YELLOW, holes: [], surrogate: L6_SURROGATE, contour: L6_CONTOUR, truth: L6_TRUE, added: L6_NEW },
];

// ---------- styling ----------
const FONT = '"Liberation Serif", "Times New Roman", serif';
const INK = '#1e1e1e';
const GREEN = 'rgb(20,232,20)';
const YELLOW = '#ffff00';
const RED = '#ff0000';
const BLUE = '#0000ff';
const NAVY = '#0000a8';
const MAGENTA = '#ff00ff';
const CANVAS_W = 528;
const CANVAS_H = 489;
const COL_X = [0, 550];
const ROW_Y = [0, 489, 978];

const xy = (pts: Pt[]) => pts.map(([x, y]) => ({ x, y }));
const joinSegs = (segs: Pt[][]) => {
  const out: { x: number; y: number | null }[] = [];
  segs.forEach((s, i) => {
    if (i > 0) out.push({ x: s[0][0], y: null });
    s.forEach(([x, y]) => out.push({ x, y }));
  });
  return out;
};

function stretchText(ctx: CanvasRenderingContext2D, text: string, x: number, y: number, align: CanvasTextAlign, sx: number) {
  ctx.save();
  ctx.translate(x, y);
  ctx.scale(sx, 1);
  ctx.textAlign = align;
  ctx.textBaseline = 'alphabetic';
  ctx.lineWidth = 0.3;
  ctx.strokeStyle = INK;
  ctx.fillText(text, 0, 0);
  ctx.strokeText(text, 0, 0);
  ctx.restore();
}

function buildDatasets(spec: PanelSpec) {
  const ds: any[] = [];
  spec.yellow.forEach((poly) => ds.push({
    data: xy([...poly, poly[0]]), showLine: true, fill: 'shape', backgroundColor: YELLOW, borderColor: YELLOW,
    borderWidth: 5, tension: 0.3, pointStyle: 'star', pointRadius: 6, pointBorderColor: YELLOW,
    pointBackgroundColor: YELLOW, pointBorderWidth: 1.5, order: 7,
  }));
  spec.holes.forEach((poly) => ds.push({
    data: xy([...poly, poly[0]]), showLine: true, fill: 'shape', backgroundColor: '#ffffff', borderColor: YELLOW,
    borderWidth: 3, tension: 0.3, pointStyle: 'star', pointRadius: 5, pointBorderColor: YELLOW,
    pointBackgroundColor: YELLOW, pointBorderWidth: 1.5, order: 6,
  }));
  ds.push({
    data: xy(spec.samples), showLine: false, pointStyle: 'rect', pointRadius: 8,
    pointBackgroundColor: 'rgba(0,0,0,0)', pointBorderColor: GREEN, pointBorderWidth: 1.3, order: 5,
  });
  ds.push({
    data: xy(spec.surrogate), showLine: true, fill: false, borderColor: RED, borderWidth: 1.2,
    pointRadius: 0, tension: 0, order: 3,
  });
  ds.push({
    data: joinSegs(spec.contour), showLine: true, fill: false, borderColor: BLUE, borderWidth: 1.3,
    borderDash: [10, 7], pointRadius: 0, tension: 0.3, spanGaps: false, order: 2,
  });
  if (spec.truth.length) {
    ds.push({
      data: joinSegs(spec.truth), showLine: true, fill: false, borderColor: NAVY, borderWidth: 1.6,
      pointRadius: 0, tension: 0.2, spanGaps: false, order: 1,
    });
  }
  if (spec.added.length) {
    ds.push({
      data: xy(spec.added), showLine: false, pointStyle: 'crossRot', pointRadius: 9,
      pointBorderColor: MAGENTA, pointBackgroundColor: MAGENTA, pointBorderWidth: 5, order: 0,
    });
  }
  return ds;
}

function decorPlugin(spec: PanelSpec) {
  return {
    id: 'decor',
    beforeDraw(chart: any) {
      const { ctx, chartArea: a } = chart;
      ctx.save();
      ctx.fillStyle = '#ffffff';
      ctx.fillRect(a.left, a.top, a.right - a.left, a.bottom - a.top);
      ctx.restore();
    },
    afterDraw(chart: any) {
      const { ctx, chartArea: a } = chart;
      const xs = chart.scales.x;
      const ys = chart.scales.y;
      ctx.save();
      ctx.strokeStyle = INK;
      ctx.lineWidth = 1.7;
      ctx.strokeRect(a.left, a.top, a.right - a.left, a.bottom - a.top);
      ctx.beginPath();
      TICKS.forEach((t) => {
        const px = xs.getPixelForValue(t);
        ctx.moveTo(px, a.bottom); ctx.lineTo(px, a.bottom - 7);
        ctx.moveTo(px, a.top); ctx.lineTo(px, a.top + 7);
        const py = ys.getPixelForValue(t);
        ctx.moveTo(a.left, py); ctx.lineTo(a.left + 7, py);
        ctx.moveTo(a.right, py); ctx.lineTo(a.right - 7, py);
      });
      ctx.stroke();

      ctx.fillStyle = INK;
      ctx.font = `22px ${FONT}`;
      TICKS.forEach((t) => {
        stretchText(ctx, String(t), xs.getPixelForValue(t), a.bottom + 35, 'center', 1.25);
        stretchText(ctx, String(t), a.left - 11, ys.getPixelForValue(t) + 7, 'right', 1.25);
      });
      stretchText(ctx, spec.title, (a.left + a.right) / 2 - 3, a.top - 9, 'center', 1.2);
      ctx.font = `23px ${FONT}`;
      stretchText(ctx, spec.tag, spec.col ? 30 : 12, 29, 'left', 1.1);

      ctx.textAlign = 'left';
      ctx.textBaseline = 'alphabetic';
      ctx.font = `italic 29px ${FONT}`;
      ctx.fillText('θ', a.left + 184, a.bottom + 76);
      ctx.font = `26px ${FONT}`;
      ctx.fillText('1', a.left + 199, a.bottom + 86);

      ctx.save();
      ctx.translate(a.left - 66, a.top + 176);
      ctx.rotate(-Math.PI / 2);
      ctx.font = `italic 29px ${FONT}`;
      ctx.fillText('θ', 0, 0);
      ctx.font = `26px ${FONT}`;
      ctx.fillText('2', 15, 10);
      ctx.restore();
      ctx.restore();
    },
  };
}

function Panel({ spec }: { spec: PanelSpec }) {
  const ref = useRef<HTMLCanvasElement>(null);
  useEffect(() => {
    if (!ref.current) return;
    const chart = new Chart(ref.current, {
      type: 'line',
      data: { datasets: buildDatasets(spec) },
      options: {
        responsive: false,
        animation: false,
        devicePixelRatio: 1,
        events: [],
        layout: { padding: { left: 113, top: 76, right: CANVAS_W - 509, bottom: CANVAS_H - 401 } },
        scales: {
          x: { type: 'linear', min: AXIS_MIN, max: AXIS_MAX, display: false },
          y: { type: 'linear', min: AXIS_MIN, max: AXIS_MAX, display: false },
        },
        plugins: { legend: { display: false }, tooltip: { enabled: false }, title: { display: false } },
      } as any,
      plugins: [decorPlugin(spec)],
    });
    return () => chart.destroy();
  }, [spec]);
  return (
    <canvas
      ref={ref}
      width={CANVAS_W}
      height={CANVAS_H}
      style={{ position: 'absolute', left: COL_X[spec.col], top: ROW_Y[spec.row], width: CANVAS_W, height: CANVAS_H, zIndex: 1 }}
    />
  );
}

const WATERMARK = 'Provisional Proof';

export default function App() {
  return (
    <div style={{ position: 'absolute', left: 0, top: 0, width: 1078, height: 1466, overflow: 'hidden', background: '#ffffff' }}>
      <div
        style={{
          position: 'absolute', left: -482, top: 2306, fontFamily: FONT, fontSize: 363, lineHeight: '363px',
          color: '#d9d9d9', whiteSpace: 'nowrap', transformOrigin: '0 0', transform: 'rotate(-60deg)',
          pointerEvents: 'none', zIndex: 0,
        }}
      >
        {WATERMARK}
      </div>
      {PANELS.map((p) => <Panel key={p.tag} spec={p} />)}
    </div>
  );
}
